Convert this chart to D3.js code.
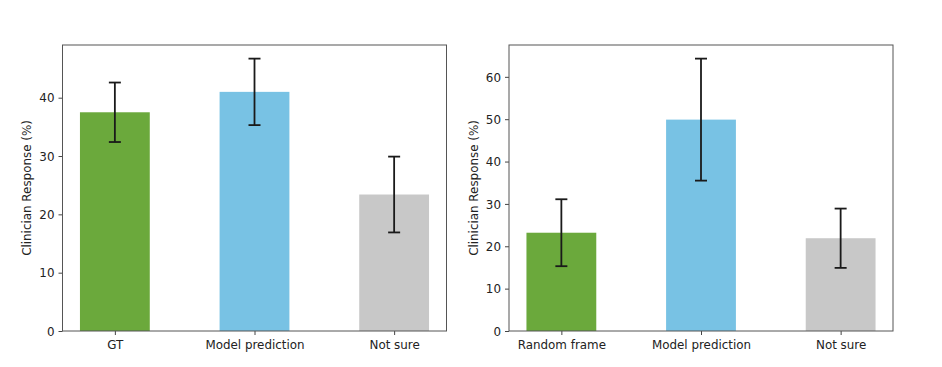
<!DOCTYPE html>
<html>
<head>
<meta charset="utf-8">
<script src="https://cdn.jsdelivr.net/npm/d3@7"></script>
<style>
  body { margin: 0; background: #fff; }
  svg text { font-family: "DejaVu Sans", sans-serif; font-size: 11.9px; fill: #222; }
</style>
</head>
<body>
<div id="chart"></div>
<script>
// left panel
const leftCats = ["GT", "Model prediction", "Not sure"];
const leftVals = [37.5, 41.0, 23.4];
const leftErr = [5.1, 5.7, 6.5];

// right panel
const rightCats = ["Random frame", "Model prediction", "Not sure"];
const rightVals = [23.2, 49.9, 21.9];
const rightErr = [7.9, 14.4, 7.0];

const barColors = ["#6ba93c", "#78c2e4", "#c8c8c8"];
const yLabel = "Clinician Response (%)";

const width = 942, height = 367;

const svg = d3.select("#chart").append("svg")
  .attr("width", width)
  .attr("height", height);

function panel(left, cats, vals, errs) {
  const w = 384, h = 286, top = 45;
  const g = svg.append("g").attr("transform", `translate(${left},${top})`);

  // matplotlib-like autoscale: 5% margin
  const barW = 0.5;
  const lo = -barW / 2, hi = cats.length - 1 + barW / 2;
  const pad = (hi - lo) * 0.05;
  const x = d3.scaleLinear().domain([lo - pad, hi + pad]).range([0, w]);

  const ymax = d3.max(vals.map((v, i) => v + errs[i])) * 1.05;
  const y = d3.scaleLinear().domain([0, ymax]).range([h, 0]);

  g.selectAll("rect.bar")
    .data(vals)
    .join("rect")
    .attr("class", "bar")
    .attr("x", (d, i) => x(i - barW / 2))
    .attr("width", x(barW) - x(0))
    .attr("y", d => y(d))
    .attr("height", d => y(0) - y(d))
    .attr("fill", (d, i) => barColors[i]);

  // error bars
  const eb = g.selectAll("g.err")
    .data(vals)
    .join("g")
    .attr("class", "err")
    .attr("stroke", "#1a1a1a")
    .attr("stroke-width", 1.8);
  eb.append("line")
    .attr("x1", (d, i) => x(i)).attr("x2", (d, i) => x(i))
    .attr("y1", (d, i) => y(d + errs[i])).attr("y2", (d, i) => y(d - errs[i]));
  eb.append("line")
    .attr("x1", (d, i) => x(i) - 6).attr("x2", (d, i) => x(i) + 6)
    .attr("y1", (d, i) => y(d + errs[i])).attr("y2", (d, i) => y(d + errs[i]));
  eb.append("line")
    .attr("x1", (d, i) => x(i) - 6).attr("x2", (d, i) => x(i) + 6)
    .attr("y1", (d, i) => y(d - errs[i])).attr("y2", (d, i) => y(d - errs[i]));

  // axes
  const yAxis = d3.axisLeft(y).ticks(6).tickSizeInner(4).tickSizeOuter(0).tickPadding(4);
  const ya = g.append("g").call(yAxis);
  const xAxis = d3.axisBottom(x).tickValues(d3.range(cats.length))
    .tickFormat(i => cats[i]).tickSizeInner(4).tickSizeOuter(0).tickPadding(4);
  const xa = g.append("g").attr("transform", `translate(0,${h})`).call(xAxis);
  [ya, xa].forEach(a => {
    a.select(".domain").remove();
    a.selectAll("line").attr("stroke", "#444");
    a.selectAll("text").attr("font-size", null).attr("font-family", null).attr("fill", "#222");
  });
  ya.selectAll("text").attr("dy", "0.35em");
  xa.selectAll("text").attr("dy", "0.8em");

  // frame
  g.append("rect")
    .attr("x", 0).attr("y", 0).attr("width", w).attr("height", h)
    .attr("fill", "none").attr("stroke", "#555").attr("stroke-width", 1);

  g.append("text")
    .attr("transform", `translate(-31.5,${h / 2}) rotate(-90)`)
    .attr("text-anchor", "middle")
    .text(yLabel);
}

panel(62.5, leftCats, leftVals, leftErr);
panel(509, rightCats, rightVals, rightErr);
</script>
</body>
</html>
